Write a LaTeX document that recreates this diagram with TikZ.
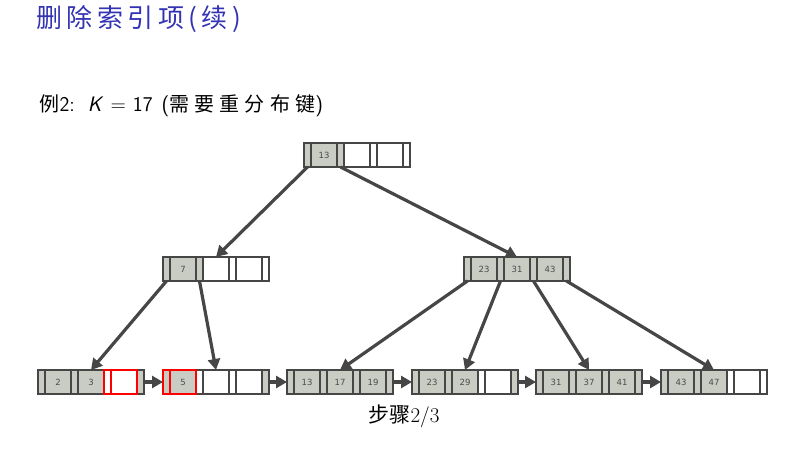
\documentclass[tikz,border=0pt]{standalone}
\usepackage{fontspec}
\newfontfamily\cjktitle[LetterSpace=17]{Noto Sans CJK SC}
\newfontfamily\cjksub[LetterSpace=26]{Noto Sans CJK SC}
\newfontfamily\cjk{Noto Sans CJK SC}
\newfontfamily\keyfont{DejaVu Sans}
\usepackage{tikz}
\usetikzlibrary{arrows.meta,calc}
\definecolor{keygray}{RGB}{200,204,194}
\definecolor{edgegray}{RGB}{70,70,70}
\definecolor{titleblue}{RGB}{51,51,179}
\tikzset{
  slot/.style   ={draw=edgegray,line width=1.8pt,minimum height=24pt,inner sep=0pt,outer sep=0pt,
                  anchor=west,font=\keyfont\fontsize{8.5}{8.5}\selectfont,text=black!70},
  full/.style   ={fill=keygray},
  hotline/.style={draw=red,line width=1.5pt},
  link/.style   ={edgegray,line width=3.2pt,-{Triangle[length=11pt,width=12pt]}},
}
% one B+ tree node: name, left/centre point, slot list (text/style)
\newcommand{\bnode}[3]{%
  \foreach \lbl/\sty [count=\i from 0] in {#3}{
    \pgfmathtruncatemacro\np{(\i+1)/2}
    \pgfmathtruncatemacro\nk{\i/2}
    \pgfmathsetmacro\slotoff{\np*7+\nk*26}
    \ifodd\i \def\slotw{26pt}\else\def\slotw{7pt}\fi
    \node[slot,minimum width=\slotw,\sty] (#1-\i) at ($(#2)+(\slotoff,0)$) {\lbl};
  }%
}
\begin{document}
\begin{tikzpicture}[x=1pt,y=-1pt]
  \useasboundingbox (0,0) rectangle (796,449);
  \node[anchor=west,text=titleblue,font=\cjktitle\fontsize{26}{26}\selectfont] (title) at (33,19) {删除索引项(续)};
  \node[anchor=west,font=\fontsize{20}{20}\selectfont] (example) at (36,106)
     {{\cjksub 例}\sffamily\fontsize{21}{21}\selectfont 2:\hspace{13pt}\textit{K}\hspace{7pt}=\hspace{7pt}17\hspace{9pt}({\cjksub\fontsize{20}{20}\selectfont 需要重分布键})};
  % tree nodes
  \bnode{root}{304,155}{/full,13/full,/full,/,/,/,/}
  \bnode{inA}{163,269}{/full,7/full,/full,/,/,/,/}
  \bnode{inB}{464,269}{/full,23/full,/full,31/full,/full,43/full,/full}
  \bnode{lfA}{38,382}{/full,2/full,/full,3/full,/,/,/full}
  \bnode{lfB}{163,382}{/full,5/full,/,/,/,/,/full}
  \bnode{lfC}{287,382}{/full,13/full,/full,17/full,/full,19/full,/full}
  \bnode{lfD}{412,382}{/full,23/full,/full,29/full,/,/,/full}
  \bnode{lfE}{536,382}{/full,31/full,/full,37/full,/full,41/full,/full}
  \bnode{lfF}{661,382}{/full,43/full,/full,47/full,/,/,/}
  \foreach \n in {lfA-4,lfA-5,lfB-0,lfB-1}
    \draw[hotline] (\n.north west) rectangle (\n.south east);
  % child pointers
  \draw[link] (root-0.south) -- (inA-3.north);
  \draw[link] (root-2.south) -- (inB-3.north);
  \draw[link] (inA-0.south) -- (lfA-3.north);
  \draw[link] (inA-2.south) -- (lfB-3.north);
  \foreach \j/\c in {0/lfC,2/lfD,4/lfE,6/lfF}
    \draw[link] (inB-\j.south) -- (\c-3.north);
  % leaf chain
  \foreach \a/\b in {lfA/lfB,lfB/lfC,lfC/lfD,lfD/lfE,lfE/lfF}
    \draw[link] (\a-6.east) -- (\b-0.west);
  \node[font=\fontsize{21}{21}\selectfont] (step) at (404,416) {{\cjk 步骤}2/3};
\end{tikzpicture}
\end{document}
